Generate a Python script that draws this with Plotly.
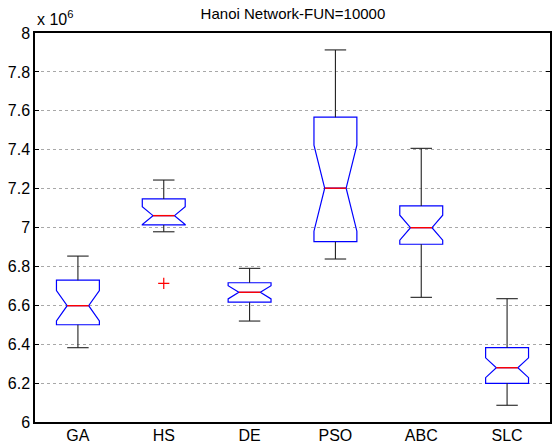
import plotly.graph_objects as go

categories = ["GA", "HS", "DE", "PSO", "ABC", "SLC"]
lower_whisker = [6.382, 6.978, 6.519, 6.838, 6.641, 6.086]
q1 = [6.500, 7.013, 6.616, 6.927, 6.914, 6.199]
median = [6.598, 7.061, 6.667, 7.202, 6.999, 6.279]
q3 = [6.729, 7.147, 6.716, 7.567, 7.111, 6.382]
upper_whisker = [6.853, 7.244, 6.790, 7.913, 7.407, 6.634]
notch_span = [0.078, 0.046, 0.034, 0.221, 0.064, 0.051]
outlier_cat = ["HS"]
outlier_val = [6.713]
y_ticks = [6.0, 6.2, 6.4, 6.6, 6.8, 7.0, 7.2, 7.4, 7.6, 7.8, 8.0]
y_ticklabels = ["6", "6.2", "6.4", "6.6", "6.8", "7", "7.2", "7.4", "7.6", "7.8", "8"]

BOX_W = 0.5
CAP_HALF = 0.125
NOTCH = 0.25

fig = go.Figure()
xs = list(range(1, len(categories) + 1))

# notched boxes (blue) from precomputed statistics
fig.add_trace(go.Box(
    x=xs, q1=q1, median=median, q3=q3,
    lowerfence=q1, upperfence=q3, notchspan=notch_span,
    notched=True, notchwidth=NOTCH, width=BOX_W, whiskerwidth=0,
    line=dict(color="#0000ff", width=1.2), fillcolor="rgba(255,255,255,0)",
    boxpoints=False, hoverinfo="skip", showlegend=False,
))

# whiskers (black)
wx, wy = [], []
for i, x in enumerate(xs):
    wx += [x, x, None, x - CAP_HALF, x + CAP_HALF, None,
           x, x, None, x - CAP_HALF, x + CAP_HALF, None]
    wy += [q3[i], upper_whisker[i], None, upper_whisker[i], upper_whisker[i], None,
           q1[i], lower_whisker[i], None, lower_whisker[i], lower_whisker[i], None]
fig.add_trace(go.Scatter(x=wx, y=wy, mode="lines",
                         line=dict(color="#222222", width=1.1),
                         hoverinfo="skip", showlegend=False))

# medians (red)
mx, my = [], []
half_notch = BOX_W / 2 * (1 - 2 * NOTCH)
for i, x in enumerate(xs):
    mx += [x - half_notch, x + half_notch, None]
    my += [median[i], median[i], None]
fig.add_trace(go.Scatter(x=mx, y=my, mode="lines",
                         line=dict(color="#ff0000", width=1.4),
                         hoverinfo="skip", showlegend=False))

# outliers
fig.add_trace(go.Scatter(
    x=[categories.index(c) + 1 for c in outlier_cat], y=outlier_val,
    mode="markers",
    marker=dict(symbol="cross-thin", size=8, line=dict(color="#ff0000", width=1.2)),
    hoverinfo="skip", showlegend=False))

font_family = "Liberation Sans, Arial, sans-serif"
fig.update_layout(
    width=558, height=444,
    margin=dict(l=35, r=8, t=33, b=22),
    paper_bgcolor="white", plot_bgcolor="white",
    font=dict(family=font_family, color="black", size=16),
    title=dict(text="Hanoi Network-FUN=10000", x=0.525, xanchor="center",
               y=1 - 14 / 444, yanchor="middle", font=dict(size=15)),
    xaxis=dict(range=[0.5, 6.5], tickvals=xs, ticktext=categories,
               showgrid=False, zeroline=False, showline=True, linecolor="black",
               linewidth=1.5, mirror=True, ticks="", tickfont=dict(size=16),
               ticklabelstandoff=-2, automargin=False),
    yaxis=dict(range=[6, 8], tickvals=y_ticks, ticktext=y_ticklabels,
               showgrid=True, gridcolor="#a8a8a8", griddash="dot", gridwidth=1,
               zeroline=False, showline=True, linecolor="black", linewidth=1.5,
               mirror="allticks", ticks="inside", ticklen=4, tickcolor="black",
               tickfont=dict(size=16), automargin=False),
    annotations=[dict(text="x 10<sup>6</sup>", xref="paper", yref="paper",
                      x=0, y=1, xanchor="left", yanchor="bottom", yshift=3,
                      showarrow=False, font=dict(size=16))],
)

fig.write_html("out.html")
